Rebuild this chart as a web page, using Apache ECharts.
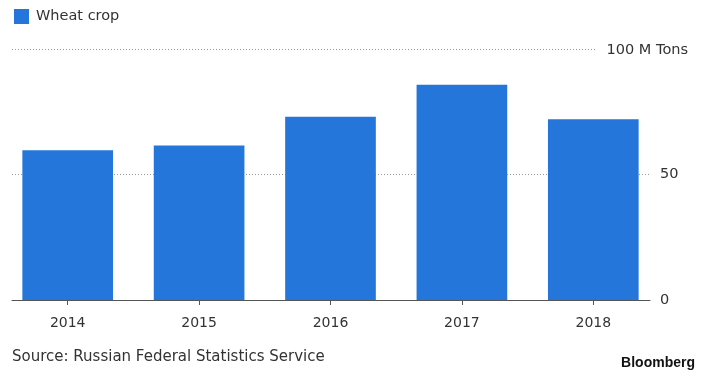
<!DOCTYPE html>
<html>
<head>
<meta charset="utf-8">
<script src="https://cdn.jsdelivr.net/npm/echarts@6/dist/echarts.min.js"></script>
<style>
  html, body { margin: 0; padding: 0; background: #fff; }
  #chart { width: 702px; height: 376px; }
</style>
</head>
<body>
<div id="chart"></div>
<script>
const years = ['2014', '2015', '2016', '2017', '2018'];
const wheatCrop = [59.7, 61.6, 73.0, 85.8, 72.0];
const yTicks = [0, 50, 100];
const unitLabel = '100 M Tons';

const FONT = 'DejaVu Sans';
const BAR_COLOR = '#2476db';
const TEXT_COLOR = '#333';

const chart = echarts.init(document.getElementById('chart'));

const option = {
  animation: false,
  textStyle: { fontFamily: FONT },
  legend: {
    left: 9,
    top: 4,
    itemWidth: 15,
    itemHeight: 15,
    itemGap: 10,
    icon: 'rect',
    textStyle: { fontSize: 14.5, color: TEXT_COLOR, fontFamily: FONT, padding: [0, 0, 0, 2] },
    data: ['Wheat crop'],
  },
  title: [
    {
      text: 'Source: Russian Federal Statistics Service',
      left: 7,
      top: 345,
      textStyle: { fontSize: 15, fontWeight: 'normal', color: TEXT_COLOR, fontFamily: FONT },
    },
    {
      text: 'Bloomberg',
      right: 2,
      top: 351,
      textStyle: { fontSize: 14, fontWeight: 'bold', color: '#111', fontFamily: 'Liberation Sans' },
    },
  ],
  grid: [
    // bars sit in this one, the bands are a bit wider than the drawn axis
    { left: 2, right: 43, top: 49, bottom: 76 },
    // axis line, dotted lines and right labels
    { left: 12, right: 52, top: 49, bottom: 76 },
  ],
  xAxis: [
    {
      type: 'category',
      gridIndex: 0,
      data: years,
      axisLine: { show: false },
      axisTick: { show: true, alignWithLabel: true, length: 5, lineStyle: { color: '#555' } },
      axisLabel: { color: TEXT_COLOR, fontSize: 14, margin: 16, fontFamily: FONT },
    },
    {
      type: 'category',
      gridIndex: 1,
      data: years,
      axisLine: { show: true, lineStyle: { color: '#555', width: 1 } },
      axisTick: { show: false },
      axisLabel: { show: false },
    },
  ],
  yAxis: [
    {
      type: 'value',
      gridIndex: 0,
      min: 0,
      max: 100,
      interval: 50,
      show: false,
    },
    {
      type: 'value',
      gridIndex: 1,
      position: 'right',
      min: 0,
      max: 100,
      interval: 50,
      axisLine: { show: false },
      axisTick: { show: false },
      splitLine: { lineStyle: { color: '#999', type: [1, 2], width: 1 } },
      axisLabel: {
        color: TEXT_COLOR,
        fontSize: 14.5,
        margin: 10,
        fontFamily: FONT,
        verticalAlign: 'middle',
        padding: [4, 0, 0, 0],
        formatter: (v) => (v === yTicks[2] ? '' : String(v)),
      },
    },
  ],
  graphic: [
    {
      type: 'text',
      right: 14,
      top: 41,
      z: 10,
      style: {
        text: unitLabel,
        fill: TEXT_COLOR,
        font: '14.5px "DejaVu Sans"',
        backgroundColor: '#fff',
        padding: [2, 0, 2, 10],
      },
    },
  ],
  series: [
    {
      name: 'Wheat crop',
      type: 'bar',
      xAxisIndex: 0,
      yAxisIndex: 0,
      data: wheatCrop,
      barCategoryGap: '31%',
      itemStyle: { color: BAR_COLOR },
      z: 3,
    },
  ],
};

chart.setOption(option);
</script>
</body>
</html>
